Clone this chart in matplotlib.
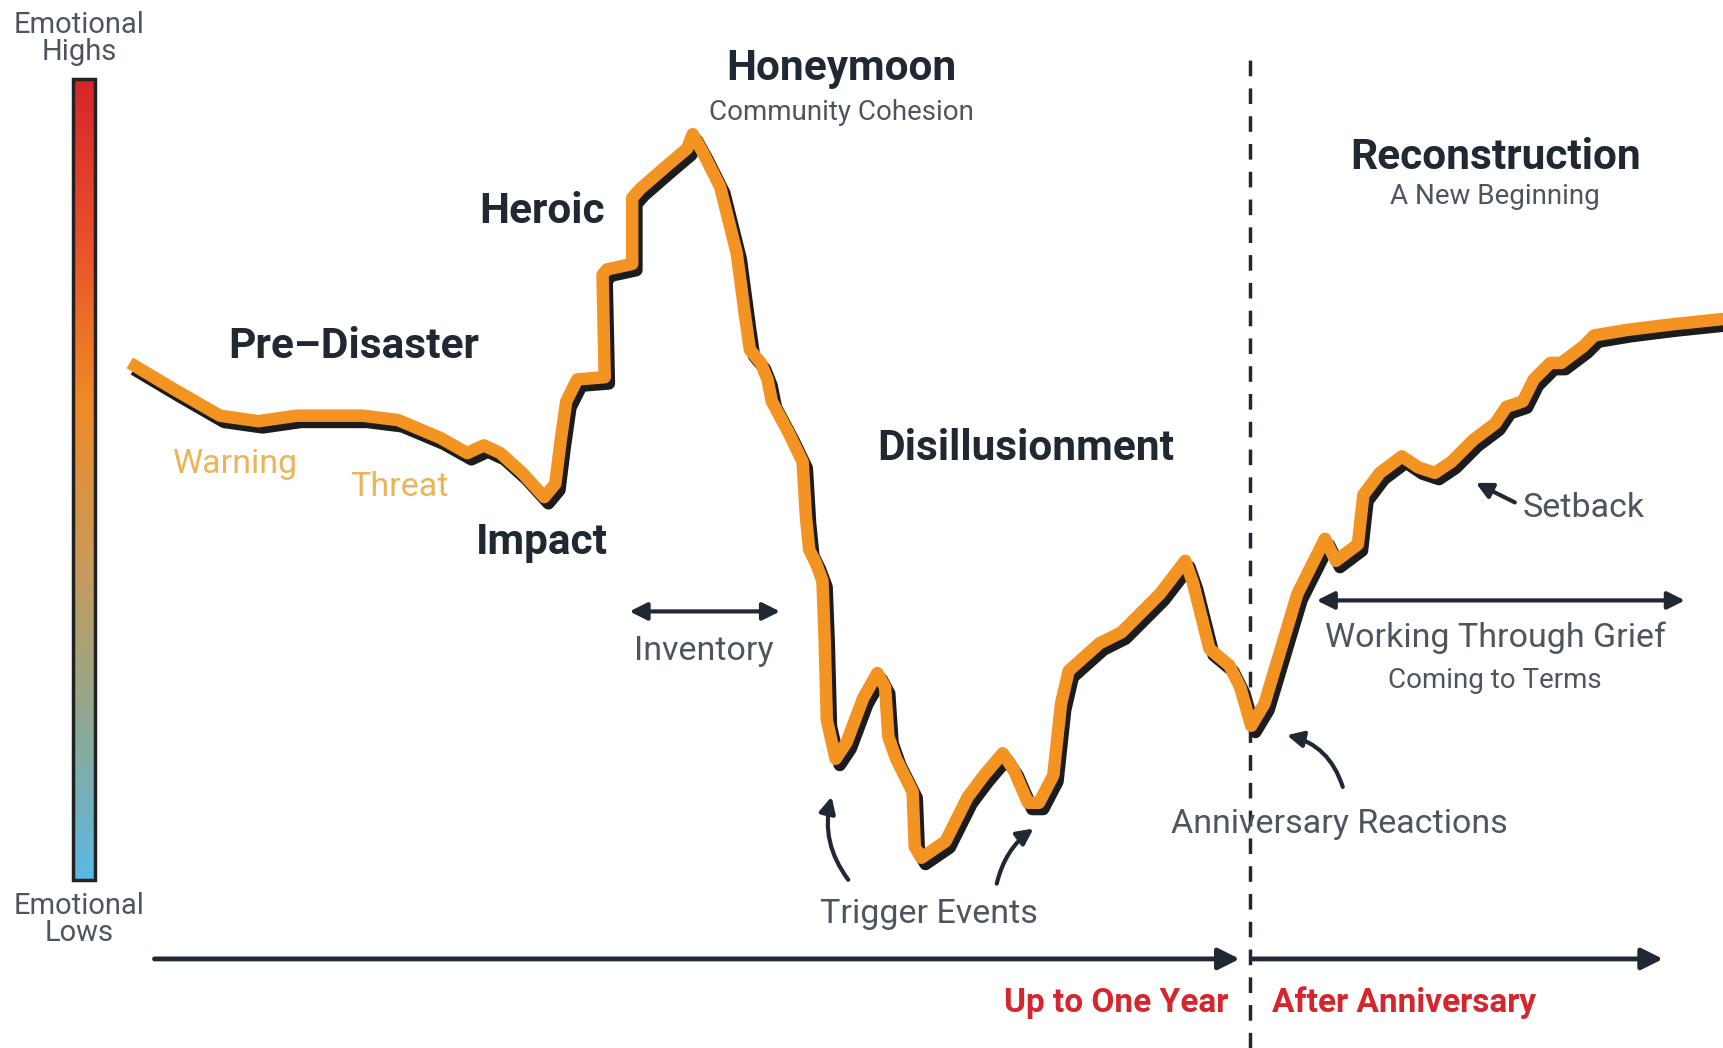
import matplotlib
matplotlib.use("Agg")
import matplotlib.pyplot as plt
import matplotlib.patheffects as pe
from matplotlib.colors import LinearSegmentedColormap
import numpy as np

# emotional curve, time along x, screen depth along y (lower value = higher emotion)
time_pts = [118, 160, 200, 235, 270, 330, 362, 400, 425, 440, 455, 475, 495,
            505, 510, 515, 525, 550, 548, 552, 575, 575, 582, 605, 625, 630,
            640, 655, 670, 678, 682, 692, 698, 702, 718, 730, 733, 736, 742,
            748, 750, 752, 760, 770, 785, 798, 805, 808, 815, 830, 832, 838,
            860, 880, 895, 912, 922, 935, 945, 958, 965, 972, 1000, 1020, 1035,
            1055, 1078, 1085, 1100, 1118, 1128, 1138, 1150, 1165, 1180, 1195,
            1205, 1215, 1235, 1240, 1255, 1275, 1290, 1305, 1320, 1340, 1360,
            1370, 1385, 1395, 1410, 1420, 1440, 1450, 1480, 1520, 1568]
depth_pts = [330, 355, 378, 383, 378, 378, 382, 398, 412, 405, 412, 430, 452,
             440, 400, 365, 345, 343, 250, 245, 240, 180, 172, 152, 135, 122,
             140, 170, 230, 290, 318, 330, 345, 365, 395, 420, 470, 500, 512,
             528, 580, 655, 690, 675, 635, 612, 625, 670, 690, 720, 770, 780,
             765, 725, 705, 685, 700, 730, 730, 705, 640, 610, 585, 575, 560,
             540, 510, 530, 590, 605, 625, 660, 640, 590, 540, 510, 490, 510,
             495, 450, 430, 415, 425, 430, 420, 400, 385, 370, 365, 345, 330,
             330, 315, 305, 300, 295, 290]

bold_labels = [("Honeymoon", 765, 62), ("Heroic", 493, 192),
               ("Pre–Disaster", 322, 315), ("Impact", 493, 493),
               ("Disillusionment", 933, 408), ("Reconstruction", 1360, 143)]
sub_labels = [("Community Cohesion", 765, 102), ("A New Beginning", 1360, 179),
              ("Coming to Terms", 1360, 619)]
note_labels = [("Setback", 1440, 462), ("Working Through Grief", 1360, 580),
               ("Inventory", 640, 592), ("Anniversary Reactions", 1218, 749),
               ("Trigger Events", 845, 831)]
phase_labels = [("Warning", 214, 422), ("Threat", 363, 443)]
period_before = ("Up to One Year", 1117, 912)
period_after = ("After Anniversary", 1157, 912)

anniversary_x = 1137
NAVY = "#1f2833"
GRAY = "#4d565f"
ORANGE = "#f39422"
RED = "#d4262c"
FONT = ["Roboto", "DejaVu Sans"]

fig = plt.figure(figsize=(17.24, 10.48), dpi=100)
ax = fig.add_axes([0, 0, 1, 1])
ax.set_xlim(0, 1568)
ax.set_ylim(953, 0)
ax.axis("off")

# gradient bar on the left
cmap = LinearSegmentedColormap.from_list(
    "emo", ["#5ab8e6", "#8fa890", "#c99a58", "#f08a24", "#e8502a", "#d6252b"])
grad = np.linspace(0, 1, 256).reshape(-1, 1)
ax.imshow(grad, cmap=cmap, aspect="auto", extent=(66, 86, 800, 72),
          origin="lower", zorder=2)
ax.add_patch(plt.Rectangle((66, 72), 20, 728, fill=False, ec="#222222",
                           lw=2.5, zorder=3))
ax.text(72, 35, "Emotional\nHighs", ha="center", va="center", color=GRAY,
        fontsize=21, family=FONT, linespacing=0.95)
ax.text(72, 836, "Emotional\nLows", ha="center", va="center", color=GRAY,
        fontsize=21, family=FONT, linespacing=0.95)

# curve with dark drop shadow
ax.plot(time_pts, depth_pts, color=ORANGE, lw=9, solid_joinstyle="round",
        solid_capstyle="butt", zorder=5,
        path_effects=[pe.SimpleLineShadow(offset=(3, -4.5), shadow_color="#1c1c1c",
                                          alpha=1.0),
                      pe.Normal()])

# anniversary divider
ax.axvline(anniversary_x, ymin=0, ymax=1 - 45 / 953, color=NAVY, lw=2.5,
           ls=(0, (4.5, 3.5)), zorder=1)

# time axis arrows
arrow_kw = dict(arrowstyle="-|>", color=NAVY, lw=3.5, mutation_scale=32)
ax.annotate("", xy=(1130, 872), xytext=(138, 872), arrowprops=arrow_kw)
ax.annotate("", xy=(1515, 872), xytext=(anniversary_x, 872), arrowprops=arrow_kw)

# double arrows
dbl_kw = dict(arrowstyle="<|-|>", color=NAVY, lw=3, mutation_scale=26)
ax.annotate("", xy=(712, 556), xytext=(570, 556), arrowprops=dbl_kw)
ax.annotate("", xy=(1535, 546), xytext=(1195, 546), arrowprops=dbl_kw)

# pointer arrows
ptr_kw = dict(arrowstyle="-|>", color=NAVY, lw=3, mutation_scale=24)
ax.annotate("", xy=(1340, 438), xytext=(1380, 458), arrowprops=ptr_kw)
ax.annotate("", xy=(1168, 668), xytext=(1222, 718),
            arrowprops=dict(ptr_kw, connectionstyle="arc3,rad=0.3"))
ax.annotate("", xy=(757, 722), xytext=(773, 802),
            arrowprops=dict(ptr_kw, connectionstyle="arc3,rad=-0.25"))
ax.annotate("", xy=(942, 752), xytext=(906, 806),
            arrowprops=dict(ptr_kw, connectionstyle="arc3,rad=-0.2"))

for txt, x, y in bold_labels:
    ax.text(x, y, txt, ha="center", va="center", color=NAVY, fontsize=30.5,
            fontweight="bold", family=FONT, zorder=6)
for txt, x, y in sub_labels:
    ax.text(x, y, txt, ha="center", va="center", color=GRAY, fontsize=20,
            family=FONT, zorder=6)
for txt, x, y in note_labels:
    ax.text(x, y, txt, ha="center", va="center", color=GRAY, fontsize=24.5,
            family=FONT, zorder=6)
for txt, x, y in phase_labels:
    ax.text(x, y, txt, ha="center", va="center", color="#ebb557", fontsize=24.5,
            family=FONT, zorder=6)
ax.text(period_before[1], period_before[2], period_before[0], ha="right",
        va="center", color=RED, fontsize=24, fontweight="bold", family=FONT)
ax.text(period_after[1], period_after[2], period_after[0], ha="left",
        va="center", color=RED, fontsize=24, fontweight="bold", family=FONT)

fig.savefig("out.png", dpi=100, facecolor="white")
